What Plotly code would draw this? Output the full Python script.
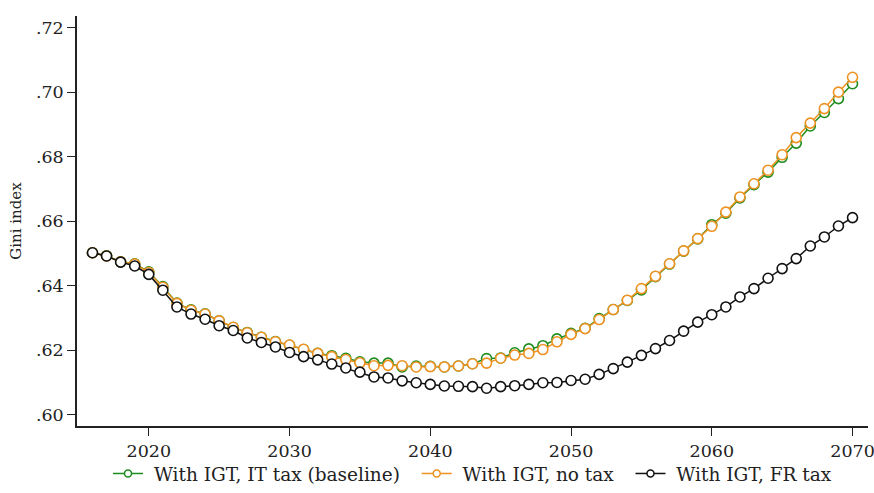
import plotly.graph_objects as go

years = list(range(2016, 2071))

baseline_it_tax = [
    .6502, .6493, .6474, .6468, .6443, .6397, .6346, .6325, .6313, .6291,
    .6270, .6255, .6240, .6227, .6215, .6202, .6190, .6183, .6175, .6164,
    .6160, .6160, .6148, .6151, .6150, .6148, .6151, .6158, .6174, .6176,
    .6192, .6204, .6214, .6235, .6252, .6268, .6298, .6326, .6354, .6387,
    .6428, .6467, .6507, .6545, .6589, .6625, .6672, .6713, .6752, .6798,
    .6842, .6895, .6937, .6980, .7026,
]

no_tax = [
    .6502, .6492, .6474, .6467, .6441, .6395, .6345, .6324, .6312, .6291,
    .6271, .6254, .6240, .6226, .6216, .6203, .6190, .6180, .6171, .6161,
    .6152, .6153, .6152, .6148, .6149, .6148, .6151, .6158, .6160, .6175,
    .6185, .6190, .6202, .6226, .6249, .6267, .6295, .6326, .6355, .6391,
    .6429, .6468, .6508, .6546, .6584, .6628, .6675, .6716, .6758, .6806,
    .6859, .6904, .6949, .7000, .7046,
]

fr_tax = [
    .6502, .6492, .6473, .6461, .6435, .6386, .6334, .6312, .6296, .6276,
    .6261, .6238, .6224, .6210, .6193, .6180, .6170, .6157, .6145, .6132,
    .6117, .6114, .6105, .6099, .6094, .6089, .6088, .6087, .6082, .6087,
    .6090, .6094, .6099, .6100, .6106, .6110, .6125, .6143, .6163, .6184,
    .6205, .6230, .6259, .6287, .6310, .6334, .6365, .6391, .6423, .6453,
    .6484, .6523, .6551, .6585, .6611,
]

series_names = ["With IGT, IT tax (baseline)", "With IGT, no tax", "With IGT, FR tax"]
series_values = [baseline_it_tax, no_tax, fr_tax]
series_colors = ["#1e8c1e", "#ee9222", "#111111"]
legend_pad_after = [2, 2, 0]

y_tickvals = [0.60, 0.62, 0.64, 0.66, 0.68, 0.70, 0.72]
y_ticktext = [".60", ".62", ".64", ".66", ".68", ".70", ".72"]
x_tickvals = [2020, 2030, 2040, 2050, 2060, 2070]

fig = go.Figure()
for name, vals, col in zip(series_names, series_values, series_colors):
    fig.add_trace(go.Scatter(
        x=years, y=vals, name=name, mode="lines+markers", showlegend=False,
        line=dict(color=col, width=1.5),
        marker=dict(symbol="circle", size=10, color="white",
                    line=dict(color=col, width=1.6)),
    ))
# legend entries (smaller symbols, as in the reference key)
for name, col, pad in zip(series_names, series_colors, legend_pad_after):
    fig.add_trace(go.Scatter(
        x=[None], y=[None], name="\u00a0" + name + "\u00a0" * pad, mode="lines+markers",
        line=dict(color=col, width=1.5),
        marker=dict(symbol="circle", size=7, color="white",
                    line=dict(color=col, width=1.5)),
    ))

font_family = "DejaVu Serif"
fig.update_layout(
    width=874, height=493,
    margin=dict(l=77, r=6, t=16, b=67, autoexpand=False),
    paper_bgcolor="white", plot_bgcolor="white",
    font=dict(family=font_family, size=18, color="#222222"),
    showlegend=True,
    legend=dict(orientation="h", x=0.5, xanchor="center", y=-0.1633, yanchor="bottom",
                font=dict(size=18.5), itemwidth=30, tracegroupgap=0,
                bgcolor="rgba(0,0,0,0)"),
    xaxis=dict(range=[2014.9, 2071.1], tickvals=x_tickvals,
               showgrid=False, zeroline=False, showline=True,
               linecolor="#222222", linewidth=1.5, ticks="outside", ticklen=8,
               tickwidth=1.2, tickcolor="#222222", tickfont=dict(size=17.5),
               ticklabeloverflow="allow"),
    yaxis=dict(range=[0.5965, 0.7236], tickvals=y_tickvals, ticktext=y_ticktext,
               showgrid=False, zeroline=False, showline=True,
               linecolor="#222222", linewidth=1.5, ticks="outside", ticklen=8,
               tickwidth=1.2, tickcolor="#222222", tickfont=dict(size=17.5),
               title=dict(text="Gini index", font=dict(size=15), standoff=11)),
)

fig.write_html("out.html")
